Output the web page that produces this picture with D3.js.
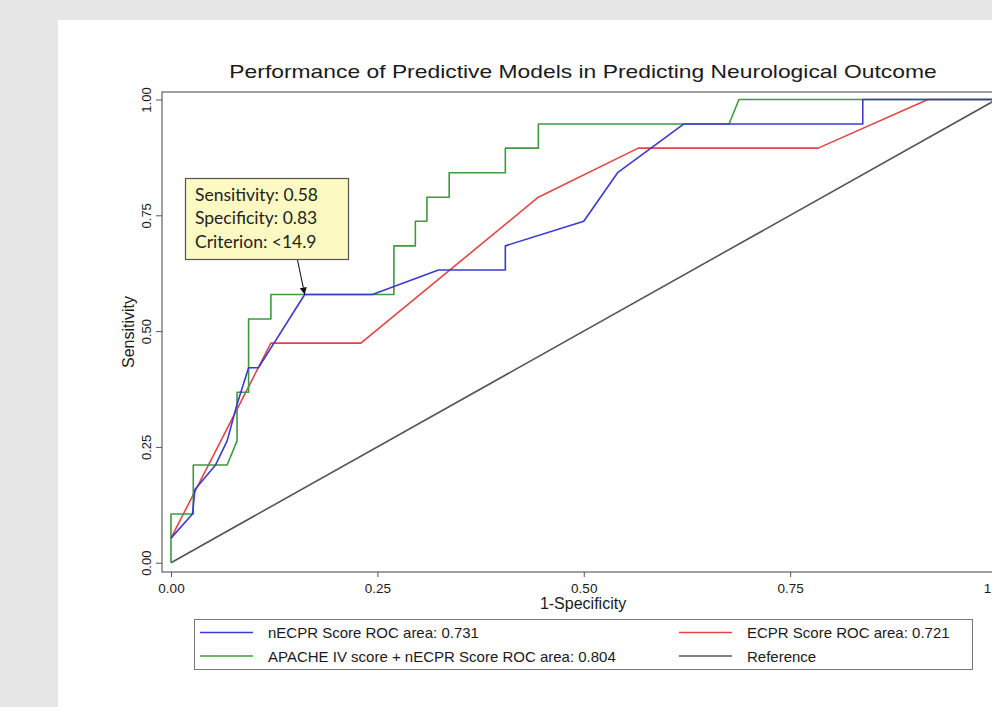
<!DOCTYPE html>
<html>
<head>
<meta charset="utf-8">
<script src="https://cdn.jsdelivr.net/npm/d3@7"></script>
<style>
  body { margin: 0; background: #e6e6e6; }
  svg { display: block; }
  text { font-family: "Liberation Sans", Arial, sans-serif; fill: #1a1a1a; }
</style>
</head>
<body>
<div id="chart"></div>
<script>
// ROC points as [1-specificity, sensitivity]
var necprPts = [[0, 0.053], [0.026, 0.105], [0.029, 0.158], [0.054, 0.211], [0.068, 0.263],
  [0.080, 0.342], [0.094, 0.421], [0.106, 0.421], [0.162, 0.579], [0.244, 0.579],
  [0.324, 0.632], [0.405, 0.632], [0.405, 0.684], [0.500, 0.737], [0.541, 0.842],
  [0.621, 0.947], [0.838, 0.947], [0.838, 1], [1, 1]];

var ecprPts = [[0, 0.053], [0.121, 0.474], [0.230, 0.474], [0.445, 0.789],
  [0.566, 0.895], [0.784, 0.895], [0.917, 1], [1, 1]];

var apachePts = [[0, 0], [0, 0.105], [0.027, 0.105], [0.027, 0.211], [0.068, 0.211],
  [0.080, 0.263], [0.080, 0.368], [0.094, 0.368], [0.094, 0.526], [0.121, 0.526],
  [0.121, 0.579], [0.270, 0.579], [0.270, 0.684], [0.296, 0.684], [0.296, 0.737],
  [0.310, 0.737], [0.310, 0.789], [0.337, 0.789], [0.337, 0.842], [0.405, 0.842],
  [0.405, 0.895], [0.445, 0.895], [0.445, 0.947], [0.676, 0.947], [0.688, 1], [1, 1]];

var refPts = [[0, 0], [1, 1]];

var tickVals = [0, 0.25, 0.5, 0.75, 1];

var legendItems = [
  { label: "nECPR Score ROC area: 0.731", color: "#3a3ad2" },
  { label: "ECPR Score ROC area: 0.721", color: "#e04646" },
  { label: "APACHE IV score + nECPR Score ROC area: 0.804", color: "#3e9a3e" },
  { label: "Reference", color: "#555555" }
];

var noteLines = ["Sensitivity: 0.58", "Specificity: 0.83", "Criterion: <14.9"];
var notePoint = [0.162, 0.579];

// chart setup
var svgWidth = 992;
var svgHeight = 707;

var svg = d3.select("#chart")
  .append("svg")
  .attr("width", svgWidth)
  .attr("height", svgHeight);

// white panel
svg.append("rect")
  .attr("x", 58).attr("y", 20)
  .attr("width", svgWidth - 58).attr("height", svgHeight - 20)
  .attr("fill", "#ffffff");

var x = d3.scaleLinear().domain([0, 1]).range([171, 996.5]);
var y = d3.scaleLinear().domain([0, 1]).range([562.7, 99.5]);

// plot frame
var frame = { left: 162, top: 92, right: 1010, bottom: 572 };
svg.append("rect")
  .attr("x", frame.left).attr("y", frame.top)
  .attr("width", frame.right - frame.left).attr("height", frame.bottom - frame.top)
  .attr("fill", "none")
  .attr("stroke", "#6e6e6e")
  .attr("stroke-width", 1.3);

// title
svg.append("text")
  .attr("transform", "translate(583,78) scale(1.27,1)")
  .attr("text-anchor", "middle")
  .style("font-size", "18px")
  .text("Performance of Predictive Models in Predicting Neurological Outcome");

// x axis
var xAxis = svg.append("g")
  .attr("transform", `translate(0, ${frame.bottom})`)
  .call(d3.axisBottom(x).tickValues(tickVals).tickFormat(d3.format(".2f")).tickSize(5).tickSizeOuter(0));
xAxis.select(".domain").remove();
xAxis.selectAll("line").attr("stroke", "#555");
xAxis.selectAll("text")
  .attr("dy", null).attr("y", 20.5)
  .style("font-size", "13.5px")
  .style("font-family", "'Liberation Sans', Arial, sans-serif")
  .attr("fill", "#333");

// y axis
var yAxis = svg.append("g")
  .attr("transform", `translate(${frame.left}, 0)`)
  .call(d3.axisLeft(y).tickValues(tickVals).tickFormat(d3.format(".2f")).tickSize(6).tickSizeOuter(0));
yAxis.select(".domain").remove();
yAxis.selectAll("line").attr("stroke", "#555");
yAxis.selectAll("text")
  .attr("x", null).attr("dy", null)
  .attr("transform", "translate(-11,0) rotate(-90)")
  .attr("text-anchor", "middle")
  .style("font-size", "13px")
  .style("font-family", "'Liberation Sans', Arial, sans-serif")
  .attr("fill", "#333");

// axis titles
svg.append("text")
  .attr("x", 583).attr("y", 609)
  .attr("text-anchor", "middle")
  .style("font-size", "16px")
  .text("1-Specificity");

svg.append("text")
  .attr("transform", "translate(134,332) rotate(-90)")
  .attr("text-anchor", "middle")
  .style("font-size", "16px")
  .text("Sensitivity");

// ROC lines
var line = d3.line().x(d => x(d[0])).y(d => y(d[1]));

var series = [
  { pts: refPts, color: legendItems[3].color },
  { pts: ecprPts, color: legendItems[1].color },
  { pts: apachePts, color: legendItems[2].color },
  { pts: necprPts, color: legendItems[0].color }
];

svg.append("defs").append("clipPath").attr("id", "clip")
  .append("rect")
  .attr("x", frame.left).attr("y", frame.top)
  .attr("width", frame.right - frame.left).attr("height", frame.bottom - frame.top);

svg.append("g").attr("clip-path", "url(#clip)")
  .selectAll("path")
  .data(series)
  .enter()
  .append("path")
  .attr("d", d => line(d.pts))
  .attr("fill", "none")
  .attr("stroke", d => d.color)
  .attr("stroke-width", 1.6)
  .attr("stroke-linejoin", "round");

// legend
var legend = svg.append("g");
legend.append("rect")
  .attr("x", 194.5).attr("y", 619.5)
  .attr("width", 778).attr("height", 50)
  .attr("fill", "#fff")
  .attr("stroke", "#777")
  .attr("stroke-width", 1);

var legendCols = [200, 679];
var legendRows = [632.5, 656];

legendItems.forEach(function(item, i) {
  var lx = legendCols[i % 2];
  var ly = legendRows[Math.floor(i / 2)];
  legend.append("line")
    .attr("x1", lx).attr("x2", lx + 53)
    .attr("y1", ly).attr("y2", ly)
    .attr("stroke", item.color)
    .attr("stroke-width", 1.5);
  legend.append("text")
    .attr("x", lx + 68).attr("y", ly + 5.5)
    .style("font-size", "15px")
    .text(item.label);
});

// annotation box
var note = svg.append("g");
note.append("rect")
  .attr("x", 185.5).attr("y", 178.5)
  .attr("width", 163).attr("height", 81)
  .attr("fill", "#fcf9c2")
  .attr("stroke", "#555")
  .attr("stroke-width", 1.2);

note.selectAll("text.note")
  .data(noteLines)
  .enter()
  .append("text")
  .attr("class", "note")
  .attr("x", 195)
  .attr("y", (d, i) => 200.5 + i * 23.5)
  .style("font-family", "Lato, 'Open Sans', sans-serif")
  .style("font-size", "17.5px")
  .style("fill", "#222")
  .text(d => d);

// arrow to the criterion point
svg.select("defs").append("marker")
  .attr("id", "arrow")
  .attr("viewBox", "0 0 10 10")
  .attr("refX", 10).attr("refY", 5)
  .attr("markerWidth", 7).attr("markerHeight", 7)
  .attr("markerUnits", "userSpaceOnUse")
  .attr("orient", "auto")
  .append("path")
  .attr("d", "M0,0 L10,5 L0,10 z")
  .attr("fill", "#111");

svg.append("line")
  .attr("x1", 297.5).attr("y1", 260)
  .attr("x2", x(notePoint[0])).attr("y2", y(notePoint[1]))
  .attr("stroke", "#111")
  .attr("stroke-width", 1.1)
  .attr("marker-end", "url(#arrow)");
</script>
</body>
</html>
